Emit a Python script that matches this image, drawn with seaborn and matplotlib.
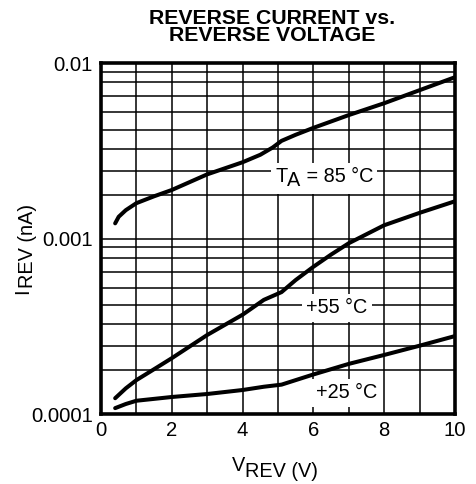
import numpy as np
import pandas as pd
import matplotlib
matplotlib.use("Agg")
import matplotlib.pyplot as plt
from matplotlib.patches import Rectangle
from matplotlib.transforms import Bbox, IdentityTransform
import seaborn as sns

# ---- data ----
v_85 = [0.4, 0.5, 0.7, 1.0, 1.5, 2.0, 3.0, 4.0, 4.5, 4.85, 5.1, 5.5, 6.0, 7.0, 8.0, 9.0, 10.0]
i_85 = [0.00122, 0.00133, 0.00145, 0.00159, 0.00174, 0.00189, 0.00232, 0.00272, 0.003,
        0.0033, 0.0036, 0.0039, 0.00427, 0.00505, 0.0059, 0.0070, 0.0083]
v_55 = [0.4, 0.7, 1.0, 1.5, 2.0, 3.0, 4.0, 4.6, 5.1, 5.5, 6.0, 6.5, 7.0, 8.0, 9.0, 10.0]
i_55 = [0.000123, 0.00014, 0.000156, 0.00018, 0.000208, 0.000282, 0.000368, 0.000447,
        0.000495, 0.00058, 0.00069, 0.00081, 0.00094, 0.00119, 0.0014, 0.00163]
v_25 = [0.4, 0.7, 1.0, 2.0, 3.0, 4.0, 4.6, 5.1, 6.0, 7.0, 8.0, 9.0, 10.0]
i_25 = [0.000108, 0.000114, 0.000119, 0.000125, 0.00013, 0.000137, 0.000143, 0.000147,
        0.000168, 0.000193, 0.000217, 0.000245, 0.000278]

label_85 = [("T", 0), ("A", 3.2), (" = 85 °C", 0)]
label_55 = "+55 °C"
label_25 = "+25 °C"
x_label = [("V", 0), ("REV (V)", 4.3)]
y_label = [("I", 0), ("REV (nA)", 3.6)]
title = "REVERSE CURRENT vs.\nREVERSE VOLTAGE"
x_ticks = [0, 2, 4, 6, 8, 10]
y_ticks = [0.0001, 0.001, 0.01]
y_tick_labels = ["0.0001", "0.001", "0.01"]

df = pd.concat([
    pd.DataFrame({"V": v_85, "I": i_85, "T": "85"}),
    pd.DataFrame({"V": v_55, "I": i_55, "T": "55"}),
    pd.DataFrame({"V": v_25, "I": i_25, "T": "25"}),
])

sns.set_theme(style="white")
plt.rcParams["font.family"] = ["Liberation Sans", "DejaVu Sans"]

FS = 14.3
fig = plt.figure(figsize=(4.76, 4.84), dpi=100)
ax = fig.add_axes([101 / 476, 1 - 414 / 484, (455 - 101) / 476, (414 - 63) / 484])

sns.lineplot(data=df, x="V", y="I", hue="T", palette=["black"] * 3, legend=False,
             linewidth=2.9, ax=ax, zorder=3, sort=False)

ax.set_yscale("log")
ax.set_xlim(0, 10)
ax.set_ylim(0.0001, 0.01)

# grid
ax.set_xticks(x_ticks)
ax.set_xticks(range(1, 10, 2), minor=True)
ax.set_yticks(y_ticks)
ax.set_yticklabels(y_tick_labels)
fracs = [0.25, 0.385, 0.51, 0.62, 0.72, 0.81, 0.89, 0.95]
minor_y = [10 ** (d + f) for d in (-4, -3) for f in fracs]
ax.set_yticks(minor_y, minor=True)
ax.yaxis.set_minor_formatter(matplotlib.ticker.NullFormatter())
ax.grid(True, which="both", color="black", linewidth=1.1)
ax.tick_params(which="both", length=0, labelsize=14.6, colors="black")
ax.tick_params(axis="x", pad=5)
ax.tick_params(axis="y", pad=6)
for s in ax.spines.values():
    s.set_color("black")
    s.set_linewidth(2.6)
    s.set_zorder(4)
ax.set_xlabel("")
ax.set_ylabel("")


def chain(parts, xy, coords, rotation=0, zorder=5):
    """Draw text pieces one after another; each piece has a downward shift (points)."""
    arts = []
    first_txt, first_shift = parts[0]
    if rotation == 0:
        prev = ax.annotate(first_txt, xy=xy, xycoords=coords, ha="left", va="baseline",
                           fontsize=FS, color="black", zorder=zorder, annotation_clip=False)
    else:
        prev = ax.annotate(first_txt, xy=xy, xycoords=coords, ha="right", va="bottom",
                           rotation=90, fontsize=FS, color="black", zorder=zorder,
                           annotation_clip=False)
    arts.append(prev)
    prev_shift = first_shift
    for txt, shift in parts[1:]:
        d = shift - prev_shift
        if rotation == 0:
            prev = ax.annotate(txt, xy=(1, 0), xycoords=prev, xytext=(0, -d),
                               textcoords="offset points", ha="left", va="bottom",
                               fontsize=FS, color="black", zorder=zorder,
                               annotation_clip=False)
        else:
            prev = ax.annotate(txt, xy=(1, 1), xycoords=prev, xytext=(d, 0),
                               textcoords="offset points", ha="right", va="bottom",
                               rotation=90, fontsize=FS, color="black", zorder=zorder,
                               annotation_clip=False)
        arts.append(prev)
        prev_shift = shift
    return arts


# axis labels (figure pixel positions)
chain(x_label, (232, 484 - 471), "figure pixels")
chain(y_label, (32, 484 - 294), "figure pixels", rotation=90)

# curve labels
box = dict(facecolor="white", edgecolor="none", pad=3)
arts85 = chain(label_85, (4.92, 0.00211), "data", zorder=5)
ax.text(6.67, 0.000402, label_55, fontsize=FS, ha="center", va="center", bbox=box,
        zorder=5, color="black")
ax.text(6.95, 0.000132, label_25, fontsize=FS, ha="center", va="center", bbox=box,
        zorder=5, color="black")

fig.text(272 / 476, 1 - 27 / 484, title, ha="center", va="center", fontsize=15.3,
         fontweight="bold", linespacing=0.88, color="black")

# white background behind the multi-piece 85 °C label
fig.canvas.draw()
renderer = fig.canvas.get_renderer()
bb = Bbox.union([a.get_window_extent(renderer) for a in arts85]).padded(4)
bg = Rectangle((bb.x0, bb.y0), bb.width, bb.height, transform=IdentityTransform(),
               facecolor="white", edgecolor="none", zorder=4.5)
ax.add_artist(bg)

fig.savefig("out.png", dpi=100)
